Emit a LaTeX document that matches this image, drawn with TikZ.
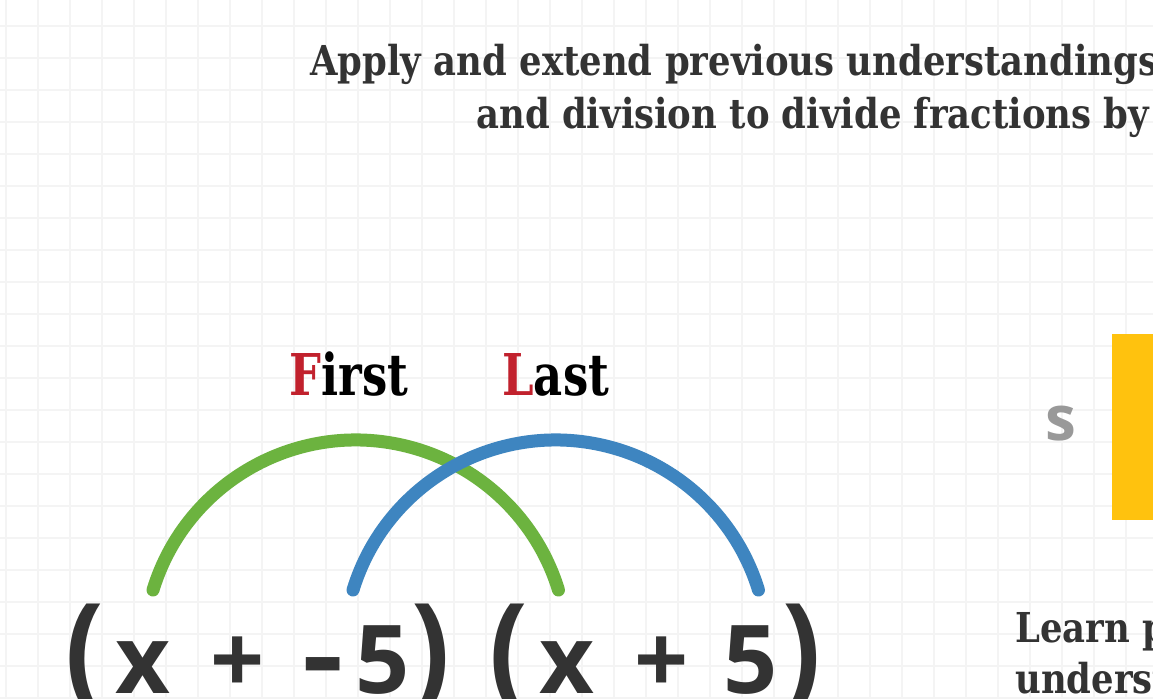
\documentclass[tikz,border=0pt]{standalone}
\usepackage{fontspec}
\usepackage{xcolor}
\newfontfamily\slabfont[FakeStretch=0.86]{DejaVu Serif}
\newfontfamily\foilfont[FakeStretch=0.78]{DejaVu Serif}
\newfontfamily\exprfont{Open Sans}
\newfontfamily\tagfont{Open Sans}
\definecolor{inkgray}{RGB}{51,51,51}
\definecolor{gridgray}{RGB}{244,244,244}
\definecolor{foilgreen}{RGB}{108,179,63}
\definecolor{foilblue}{RGB}{62,133,192}
\definecolor{foilred}{RGB}{193,33,45}
\definecolor{signyellow}{RGB}{255,194,14}
\definecolor{taggray}{RGB}{153,153,153}
\newcommand{\bigparen}[1]{\scalebox{1.2}[1.32]{#1}}
\newcommand{\widedash}{\scalebox{1.35}[1.15]{-}\kern6pt}

\begin{document}
\begin{tikzpicture}[x=0.5pt, y=-0.5pt,
    gridline/.style={gridgray, line width=1pt},
    headline/.style={anchor=base west, inner sep=0pt, text=inkgray,
      font=\slabfont\bfseries\fontsize{20.6}{24}\selectfont},
    term/.style={anchor=base, inner sep=0pt, text=inkgray,
      font=\exprfont\bfseries\fontsize{47.5}{50}\selectfont},
    foillabel/.style={anchor=base west, inner sep=0pt,
      font=\foilfont\bfseries\fontsize{28.8}{30}\selectfont},
    foilarc/.style={line width=6.5pt, line cap=round}]
    \useasboundingbox (0,0) rectangle (1153,698);
    \clip (0,0) rectangle (1153,698);
    \fill[white] (0,0) rectangle (1153,698);

    % Grid paper
    \foreach \gx in {6,38,...,1158}
        \draw[gridline] (\gx,0) -- (\gx,698);
    \foreach \gy in {26,58,...,698}
        \draw[gridline] (0,\gy) -- (1153,\gy);

    % Heading
    \node[headline] (head1) at (310,75) {Apply and extend previous understandings};
    \node[headline] (head2) at (476,128) {and division to divide fractions by};

    % Right panel
    \node[anchor=base, inner sep=0pt, text=taggray,
      font=\tagfont\bfseries\fontsize{31}{32}\selectfont] (tag) at (1061,440) {s};
    \fill[signyellow] (1112,334) rectangle (1160,520);
    \node[headline] (learn1) at (1015,642) {Learn p};
    \node[headline] (learn2) at (1015,693) {underst};

    % Labels
    \node[foillabel] (first) at (289,395) {\textcolor{foilred}{F}irst};
    \node[foillabel] (last) at (502,395) {\textcolor{foilred}{L}ast};

    % Expression
    \node[term] (lpa) at (85,693) {\bigparen{(}};
    \node[term] (xa) at (143,693) {x};
    \node[term] (pla) at (238,693) {+};
    \node[term] (ca) at (356,693) {\widedash5};
    \node[term] (rpa) at (431,693) {\bigparen{)}};
    \node[term] (lpb) at (509,693) {\bigparen{(}};
    \node[term] (xb) at (567,693) {x};
    \node[term] (plb) at (662,693) {+};
    \node[term] (cb) at (751,693) {5};
    \node[term] (rpb) at (802,693) {\bigparen{)}};

    % Arcs
    \coordinate (xatop) at (153,590);
    \coordinate (catop) at (353,590);
    \draw[foilarc, foilgreen] (xatop) arc[start angle=-163, end angle=-17, radius=212];
    \draw[foilarc, foilblue] (catop) arc[start angle=-163, end angle=-17, radius=212];
\end{tikzpicture}
\end{document}
